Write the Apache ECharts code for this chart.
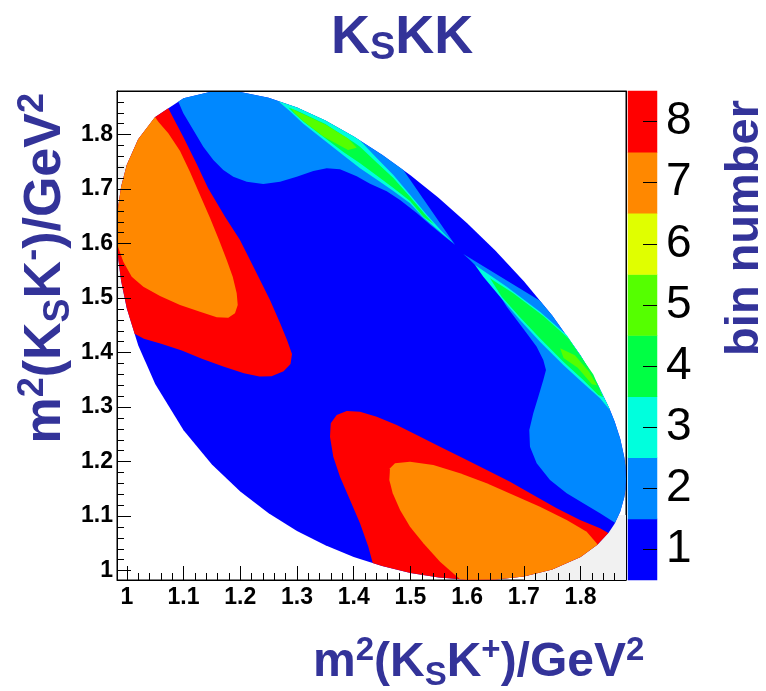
<!DOCTYPE html>
<html>
<head>
<meta charset="utf-8">
<script src="https://cdn.jsdelivr.net/npm/echarts@6/dist/echarts.min.js"></script>
<style>
  html, body { margin: 0; padding: 0; background: #ffffff; }
  #chart { width: 766px; height: 691px; }
</style>
</head>
<body>
<div id="chart"></div>
<script>
// D0 -> KS K+ K- Dalitz plot binning: m2(KS K+) on x, m2(KS K-) on y, GeV^2.

// Tick values shown on both axes
const axisTickValues = [1.0, 1.1, 1.2, 1.3, 1.4, 1.5, 1.6, 1.7, 1.8];
// Bin numbers of the colour scale
const binNumbers = [1, 2, 3, 4, 5, 6, 7, 8];

// Kinematic boundary, lower branch (left to right)
const dalitzLower = [
  [0.98265, 1.6214], [0.9835, 1.5913], [0.985, 1.5708], [0.99, 1.5308], [1.00, 1.4807],
  [1.02, 1.4134], [1.05, 1.3423], [1.10, 1.2574], [1.15, 1.1945], [1.20, 1.1451],
  [1.25, 1.1052], [1.30, 1.0727], [1.35, 1.0463], [1.40, 1.0249], [1.45, 1.0082],
  [1.50, 0.9957], [1.55, 0.9873], [1.60, 0.9831], [1.65, 0.9835], [1.70, 0.9892],
  [1.75, 1.0018], [1.80, 1.0249], [1.83, 1.0477], [1.85, 1.0703], [1.86, 1.0861],
  [1.87, 1.1082], [1.877, 1.1344], [1.879, 1.1483], [1.88009, 1.1686]
];
// Kinematic boundary, upper branch (right to left)
const dalitzUpper = [
  [1.879, 1.1921], [1.877, 1.2080], [1.87, 1.2412], [1.86, 1.2734], [1.85, 1.2992],
  [1.83, 1.3419], [1.80, 1.3948], [1.75, 1.4681], [1.70, 1.5309], [1.65, 1.5869],
  [1.60, 1.6375], [1.55, 1.6836], [1.50, 1.7254], [1.45, 1.7632], [1.40, 1.7968],
  [1.35, 1.8258], [1.30, 1.8497], [1.25, 1.8676], [1.20, 1.8781], [1.15, 1.8792],
  [1.10, 1.8668], [1.05, 1.8324], [1.02, 1.7916], [1.00, 1.7446], [0.99, 1.7046],
  [0.985, 1.6697], [0.9835, 1.6508]
];

// Bin 2: band below the upper edge
const topBandBin2 = [
  [1.0908, 1.8605], [1.0996, 1.8392], [1.1172, 1.8085], [1.1348, 1.7779], [1.1525, 1.7535],
  [1.1701, 1.7351], [1.1877, 1.7228], [1.2114, 1.7137], [1.2406, 1.7094], [1.2701, 1.7137],
  [1.2995, 1.7228], [1.3288, 1.7333], [1.3524, 1.7382], [1.3758, 1.7364], [1.4053, 1.7236],
  [1.4288, 1.7100], [1.4582, 1.6960], [1.4817, 1.6800], [1.5111, 1.6560], [1.5345, 1.6350],
  [1.5580, 1.6150], [1.5786, 1.5980], [1.4875, 1.7349], [1.45, 1.7632], [1.40, 1.7968],
  [1.35, 1.8258], [1.30, 1.8497], [1.25, 1.8676], [1.20, 1.8781], [1.15, 1.8792], [1.10, 1.8668]
];
// Bin 2: band along the right edge
const rightBandBin2 = [
  [1.5932, 1.5810], [1.7284, 1.4952], [1.75, 1.4681], [1.80, 1.3948], [1.83, 1.3419],
  [1.85, 1.2992], [1.86, 1.2734], [1.87, 1.2412], [1.877, 1.2080], [1.879, 1.1921],
  [1.88009, 1.1686], [1.879, 1.1483], [1.877, 1.1344], [1.87, 1.1082], [1.8607, 1.0876],
  [1.8343, 1.1051], [1.8048, 1.1234], [1.7755, 1.1418], [1.7461, 1.1662], [1.7226, 1.1968],
  [1.7108, 1.2273], [1.7096, 1.2580], [1.7166, 1.2886], [1.7255, 1.3191], [1.7343, 1.3497],
  [1.7390, 1.3681], [1.7343, 1.3864], [1.7226, 1.4108], [1.7050, 1.4354], [1.6874, 1.4598],
  [1.6698, 1.4842], [1.6549, 1.5088], [1.6403, 1.5332], [1.6227, 1.5516], [1.6050, 1.5700]
];
// Bin 3: upper and lower narrow stripes
const upperStripeBin3 = [
  [1.2671, 1.8615], [1.30, 1.8497], [1.35, 1.8258], [1.40, 1.7968], [1.4111, 1.7893],
  [1.4405, 1.7571], [1.4699, 1.7259], [1.4993, 1.6898], [1.5287, 1.6531], [1.5552, 1.6226],
  [1.5757, 1.6012], [1.5600, 1.6150], [1.5400, 1.6330], [1.5228, 1.6480], [1.4993, 1.6740],
  [1.4699, 1.6966], [1.4405, 1.7175], [1.4111, 1.7383], [1.3817, 1.7620], [1.3464, 1.7910],
  [1.3112, 1.8200], [1.2877, 1.8430]
];
const lowerStripeBin3 = [
  [1.6139, 1.5608], [1.6698, 1.5210], [1.7284, 1.4751], [1.7755, 1.4323], [1.7902, 1.4092],
  [1.80, 1.3948], [1.83, 1.3419], [1.85, 1.2992], [1.852, 1.2940], [1.8343, 1.3161],
  [1.8048, 1.3437], [1.7696, 1.3773], [1.7284, 1.4200], [1.6932, 1.4598], [1.6580, 1.5026],
  [1.6285, 1.5393]
];
// Bin 4
const upperStripeBin4 = [
  [1.2850, 1.8500], [1.30, 1.8440], [1.35, 1.8195], [1.40, 1.7860], [1.4111, 1.7779],
  [1.4405, 1.7490], [1.4699, 1.7204], [1.4993, 1.6860], [1.5287, 1.6500], [1.5420, 1.6350],
  [1.5228, 1.6495], [1.4993, 1.6780], [1.4699, 1.7020], [1.4405, 1.7250], [1.4111, 1.7473],
  [1.3817, 1.7680], [1.3464, 1.7960], [1.3112, 1.8240], [1.2930, 1.8410]
];
const lowerStripeBin4 = [
  [1.6403, 1.5364], [1.6814, 1.5088], [1.7343, 1.4672], [1.7784, 1.4263], [1.7990, 1.3950],
  [1.8225, 1.3600], [1.8400, 1.3180], [1.8313, 1.3222], [1.8048, 1.3497], [1.7696, 1.3833],
  [1.7284, 1.4263], [1.6932, 1.4648], [1.6609, 1.5026]
];
// Bin 5
const upperStripeBin5 = [
  [1.2900, 1.8480], [1.30, 1.8430], [1.35, 1.8185], [1.3900, 1.7930], [1.4053, 1.7760],
  [1.3900, 1.7720], [1.3464, 1.7965], [1.3112, 1.8245], [1.2950, 1.8400]
];
const lowerStripeBin5 = [
  [1.7640, 1.4080], [1.7900, 1.3950], [1.8150, 1.3650], [1.8290, 1.3400], [1.8200, 1.3420],
  [1.7950, 1.3720], [1.7700, 1.3900]
];
// Bin 8: lobes on the left and at the bottom
const leftLobeBin8 = [
  [1.0731, 1.8483], [1.0850, 1.8245], [1.0996, 1.7957], [1.1232, 1.7461], [1.1431, 1.7021],
  [1.1731, 1.6494], [1.1995, 1.6066], [1.2260, 1.5516], [1.2524, 1.4965], [1.2701, 1.4543],
  [1.2824, 1.4231], [1.2912, 1.3974], [1.2886, 1.3791], [1.2764, 1.3659], [1.2551, 1.3565],
  [1.2338, 1.3560], [1.2064, 1.3622], [1.1700, 1.3743], [1.1334, 1.3884], [1.0969, 1.4039],
  [1.0605, 1.4160], [1.0301, 1.4253], [1.0137, 1.4346], [1.00, 1.4807], [0.99, 1.5308],
  [0.985, 1.5708], [0.9835, 1.5913], [0.98265, 1.6214], [0.9835, 1.6508], [0.985, 1.6697],
  [0.99, 1.7046], [1.00, 1.7446], [1.02, 1.7916], [1.05, 1.8324]
];
const bottomLobeBin8 = [
  [1.4335, 1.0137], [1.4258, 1.0438], [1.4111, 1.0867], [1.3935, 1.1295], [1.3758, 1.1723],
  [1.3640, 1.2090], [1.3582, 1.2457], [1.3595, 1.2703], [1.3700, 1.2855], [1.3877, 1.2928],
  [1.4111, 1.2915], [1.4405, 1.2824], [1.4758, 1.2671], [1.5111, 1.2488], [1.5522, 1.2273],
  [1.5932, 1.2060], [1.6345, 1.1845], [1.6756, 1.1631], [1.7166, 1.1387], [1.7579, 1.1143],
  [1.7990, 1.0928], [1.8343, 1.0775], [1.8489, 1.0691], [1.83, 1.0477], [1.80, 1.0249],
  [1.75, 1.0018], [1.70, 0.9892], [1.65, 0.9835], [1.60, 0.9831], [1.55, 0.9873],
  [1.50, 0.9957], [1.45, 1.0082]
];
// Bin 7: cores of the two lobes
const leftLobeBin7 = [
  [1.0497, 1.8322], [1.0555, 1.8238], [1.0731, 1.8025], [1.0938, 1.7700], [1.1114, 1.7314],
  [1.1290, 1.6892], [1.1467, 1.6470], [1.1625, 1.6066], [1.1761, 1.5700], [1.1867, 1.5393],
  [1.1937, 1.5088], [1.1955, 1.4874], [1.1907, 1.4721], [1.1789, 1.4641], [1.1585, 1.4648],
  [1.1290, 1.4751], [1.0938, 1.4874], [1.0585, 1.5039], [1.0291, 1.5210], [1.0086, 1.5393],
  [0.9938, 1.5668], [0.9833, 1.5975], [0.98265, 1.6214], [0.9835, 1.6508], [0.985, 1.6697],
  [0.99, 1.7046], [1.00, 1.7446], [1.02, 1.7916]
];
const bottomLobeBin7 = [
  [1.5874, 0.9842], [1.5522, 1.0163], [1.5228, 1.0500], [1.4993, 1.0805], [1.4817, 1.1111],
  [1.4688, 1.1418], [1.4628, 1.1662], [1.4640, 1.1877], [1.4728, 1.1969], [1.4993, 1.1998],
  [1.5404, 1.1937], [1.5874, 1.1785], [1.6345, 1.1601], [1.6814, 1.1387], [1.7284, 1.1172],
  [1.7755, 1.0928], [1.8108, 1.0714], [1.8302, 1.0479], [1.80, 1.0249], [1.75, 1.0018],
  [1.70, 0.9892], [1.65, 0.9835], [1.60, 0.9831]
];
// Unbinned corner patches of the frame: [xMin, xMax, yMin, yMax]
const greyPatches = [
  [0.98265, 1.00, 1.50, 1.7446],
  [1.70, 1.88009, 0.98265, 1.102]
];

// Paint order: later regions cover earlier ones
const regions = [
  { bin: 1, pts: dalitzLower.concat(dalitzUpper) },
  { bin: 2, pts: topBandBin2 },
  { bin: 2, pts: rightBandBin2 },
  { bin: 3, pts: upperStripeBin3 },
  { bin: 3, pts: lowerStripeBin3 },
  { bin: 4, pts: upperStripeBin4 },
  { bin: 4, pts: lowerStripeBin4 },
  { bin: 5, pts: upperStripeBin5 },
  { bin: 5, pts: lowerStripeBin5 },
  { bin: 8, pts: leftLobeBin8 },
  { bin: 8, pts: bottomLobeBin8 },
  { bin: 7, pts: leftLobeBin7 },
  { bin: 7, pts: bottomLobeBin7 }
];

const binColors = ['#0000ff', '#0088ff', '#00ffdd', '#00ff44', '#55ff00', '#e0ff00', '#ff8800', '#ff0000'];
const FONT = "'Liberation Sans', Arial, Helvetica, sans-serif";
const NAVY = '#333399';
const X_MIN = 0.98265, X_MAX = 1.88009;

function tickLabel(v) {
  const hit = axisTickValues.find(t => Math.abs(t - v) < 1e-6);
  return hit === undefined ? '' : String(hit);
}

const tickLabelStyle = {
  formatter: tickLabel, color: '#000', fontFamily: FONT, fontWeight: 'bold', fontSize: 23
};

// Rich styles for axis titles with super- and subscripts
function titleRich(main, small) {
  return {
    m: { fontFamily: FONT, fontWeight: 'bold', fontSize: main, fill: NAVY, lineHeight: Math.round(main * 1.2) },
    p: { fontFamily: FONT, fontWeight: 'bold', fontSize: small, fill: NAVY, lineHeight: small, verticalAlign: 'top' },
    b: { fontFamily: FONT, fontWeight: 'bold', fontSize: small, fill: NAVY, lineHeight: Math.round(small * 0.85), verticalAlign: 'bottom' }
  };
}

const chart = echarts.init(document.getElementById('chart'), null, { renderer: 'canvas' });

chart.setOption({
  animation: false,
  backgroundColor: '#ffffff',
  title: {
    text: '{k|K}{s|S}{k|KK}',
    left: 331, top: 8, padding: 0,
    textStyle: {
      rich: {
        k: { fontFamily: FONT, fontWeight: 'bold', fontSize: 54, color: NAVY, lineHeight: 60 },
        s: { fontFamily: FONT, fontWeight: 'bold', fontSize: 38, color: NAVY, lineHeight: 22, verticalAlign: 'bottom' }
      }
    }
  },
  grid: [
    { left: 117, top: 91, width: 509, height: 489, show: true, backgroundColor: '#ffffff', borderColor: '#000', borderWidth: 1 },
    { left: 628, top: 91, width: 29, height: 489 }
  ],
  xAxis: [
    {
      type: 'value', gridIndex: 0, min: X_MIN, max: X_MAX, splitNumber: 9, z: 10,
      axisLine: { show: true, onZero: false, lineStyle: { color: '#000', width: 1 } },
      axisTick: { show: true, inside: true, length: 14, lineStyle: { color: '#000', width: 1 } },
      minorTick: { show: true, splitNumber: 5, length: 7, lineStyle: { color: '#000', width: 1 } },
      splitLine: { show: false },
      axisLabel: Object.assign({ margin: 6 }, tickLabelStyle)
    },
    {
      type: 'value', gridIndex: 0, min: X_MIN, max: X_MAX, position: 'top', z: 10,
      axisLine: { show: true, onZero: false, lineStyle: { color: '#000', width: 1 } },
      axisTick: { show: false }, axisLabel: { show: false }, splitLine: { show: false }
    },
    {
      type: 'category', gridIndex: 1, data: [''], show: false
    }
  ],
  yAxis: [
    {
      type: 'value', gridIndex: 0, min: X_MIN, max: X_MAX, splitNumber: 9, z: 10,
      axisLine: { show: true, onZero: false, lineStyle: { color: '#000', width: 1 } },
      axisTick: { show: true, inside: true, length: 14, lineStyle: { color: '#000', width: 1 } },
      minorTick: { show: true, splitNumber: 5, length: 7, lineStyle: { color: '#000', width: 1 } },
      splitLine: { show: false },
      axisLabel: Object.assign({ margin: 4 }, tickLabelStyle)
    },
    {
      type: 'value', gridIndex: 0, min: X_MIN, max: X_MAX, position: 'right', z: 10,
      axisLine: { show: true, onZero: false, lineStyle: { color: '#000', width: 1 } },
      axisTick: { show: false }, axisLabel: { show: false }, splitLine: { show: false }
    },
    {
      type: 'category', gridIndex: 1, position: 'right', z: 10,
      data: binNumbers.map(String),
      axisLine: { show: false },
      axisTick: { show: true, inside: true, length: 14, alignWithLabel: true, lineStyle: { color: '#000', width: 1 } },
      axisLabel: { color: '#000', fontFamily: FONT, fontSize: 46, margin: 9 },
      splitLine: { show: false }
    }
  ],
  visualMap: {
    type: 'piecewise', show: false, dimension: 2, seriesIndex: [1, 2],
    pieces: binNumbers.map((b, i) => ({ value: b, color: binColors[i] }))
  },
  series: [
    {
      type: 'custom', name: 'frame', xAxisIndex: 0, yAxisIndex: 0, silent: true, z: 1,
      data: greyPatches.map(p => [p[0], p[2]]),
      renderItem: function (params, api) {
        const p = greyPatches[params.dataIndex];
        const a = api.coord([p[0], p[3]]);
        const b = api.coord([p[1], p[2]]);
        return { type: 'rect', shape: { x: a[0], y: a[1], width: b[0] - a[0], height: b[1] - a[1] },
                 style: { fill: '#f1f1f1' } };
      }
    },
    {
      type: 'custom', name: 'bins', xAxisIndex: 0, yAxisIndex: 0, silent: true, z: 2,
      data: regions.map(r => [r.pts[0][0], r.pts[0][1], r.bin]),
      renderItem: function (params, api) {
        const reg = regions[params.dataIndex];
        return { type: 'polygon', shape: { points: reg.pts.map(p => api.coord(p)) },
                 style: { fill: api.visual('color'), stroke: null } };
      }
    },
    {
      type: 'heatmap', name: 'scale', xAxisIndex: 2, yAxisIndex: 2, silent: true,
      data: binNumbers.map((b, i) => [0, i, b])
    }
  ],
  graphic: [
    {
      type: 'text', x: 46, y: 93, rotation: Math.PI / 2, silent: true,
      style: {
        text: '{m|m}{p|2}{m|(K}{b|S}{m|K}{p|-}{m|)/GeV}{p|2}',
        align: 'right', verticalAlign: 'middle',
        rich: titleRich(52, 36)
      }
    },
    {
      type: 'text', x: 313, y: 634, silent: true,
      style: {
        text: '{m|m}{p|2}{m|(K}{b|S}{m|K}{p|+}{m|)/GeV}{p|2}',
        align: 'left', verticalAlign: 'top',
        rich: titleRich(48, 33)
      }
    },
    {
      type: 'text', x: 745, y: 100, rotation: Math.PI / 2, silent: true,
      style: {
        text: 'bin number', align: 'right', verticalAlign: 'middle',
        fontFamily: FONT, fontWeight: 'bold', fontSize: 47, fill: NAVY
      }
    }
  ]
});
</script>
</body>
</html>
